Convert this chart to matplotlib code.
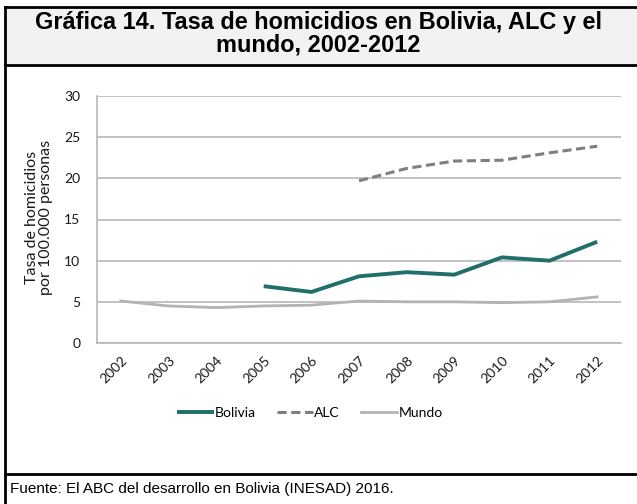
import numpy as np
import matplotlib.pyplot as plt
from matplotlib.lines import Line2D
from matplotlib.patches import Rectangle

# DATA
years = ['2002', '2003', '2004', '2005', '2006', '2007', '2008', '2009', '2010', '2011', '2012']
bolivia = [np.nan, np.nan, np.nan, 6.9, 6.2, 8.1, 8.6, 8.3, 10.4, 10.0, 12.3]
alc = [np.nan, np.nan, np.nan, np.nan, np.nan, 19.7, 21.2, 22.1, 22.2, 23.1, 23.9]
mundo = [5.1, 4.5, 4.3, 4.5, 4.6, 5.1, 5.0, 5.0, 4.9, 5.0, 5.6]
yticks = [0, 5, 10, 15, 20, 25, 30]

fig = plt.figure(figsize=(6.37, 5.04), dpi=100)

# FRAME AROUND THE CHART
fig.add_artist(Rectangle((6/637, 1-65/504), 1, 57/504, transform=fig.transFigure,
                         facecolor='#f2f2f2', edgecolor='none', zorder=0))
for y in [7, 65, 474]:
    fig.add_artist(Line2D([5/637, 1], [1-y/504, 1-y/504], color='black', lw=2))
fig.add_artist(Line2D([5/637, 5/637], [1-7/504, 0], color='black', lw=2))

# TITLE AND SOURCE
fig.text(0.5, 1-34/504, 'Gráfica 14. Tasa de homicidios en Bolivia, ALC y el\nmundo, 2002-2012',
         ha='center', va='center', fontsize=16.9, fontweight='bold',
         family='Liberation Sans', linespacing=0.98)
fig.text(10/637, 1-489/504, 'Fuente: El ABC del desarrollo en Bolivia (INESAD) 2016.',
         ha='left', va='center', fontsize=11, family='Liberation Sans')

# PLOT
ax = fig.add_axes([97/637, 1-343/504, (621-97)/637, (343-96)/504])
x = np.arange(len(years))
ax.plot(x, bolivia, color='#206f6b', lw=2.8, label='Bolivia', solid_capstyle='butt')
ax.plot(x, alc, color='#7f7f7f', lw=2.2, ls=(0, (3, 1.5)), label='ALC')
ax.plot(x, mundo, color='#b3b3b3', lw=2.0, label='Mundo')

ax.set_xlim(-0.5, len(years) - 0.5)
ax.set_ylim(0, 30)
ax.set_yticks(yticks)
ax.set_xticks(x)
ax.set_xticklabels(years, rotation=45, ha='right', rotation_mode='anchor')
ax.grid(axis='y', color='#b8b8b8', lw=1.2)
ax.set_axisbelow(True)
for s in ['top', 'right']:
    ax.spines[s].set_visible(False)
for s in ['left', 'bottom']:
    ax.spines[s].set_color('#b8b8b8')
    ax.spines[s].set_linewidth(1.2)
ax.tick_params(length=0, labelsize=10, labelcolor='#1a1a1a')
ax.tick_params(axis='y', pad=12)
ax.tick_params(axis='x', pad=8)
for lab in ax.get_xticklabels() + ax.get_yticklabels():
    lab.set_family('Lato')

fig.text(39/637, 1-217/504, 'Tasa de homicidios\npor 100.000 personas', rotation=90,
         ha='center', va='center', fontsize=11.5, family='Lato', color='#1a1a1a',
         linespacing=0.95)

ax.legend(loc='center', bbox_to_anchor=(310/637, 1-413/504), bbox_transform=fig.transFigure,
          ncol=3, frameon=False, handlelength=2.6, handletextpad=0.1,
          columnspacing=1.5, prop={'family': 'Lato', 'size': 10})

fig.savefig('out.png', dpi=100)
